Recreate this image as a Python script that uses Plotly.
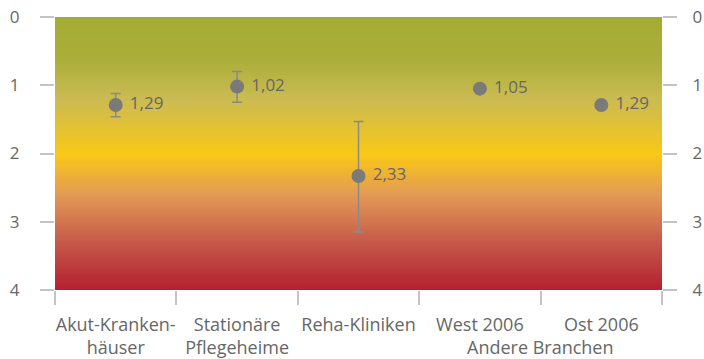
import numpy as np
import plotly.graph_objects as go

# ---- data ----
categories = ["Akut-Kranken-<br>häuser", "Stationäre<br>Pflegeheime", "Reha-Kliniken", "West 2006", "Ost 2006"]
values = [1.29, 1.02, 2.33, 1.05, 1.29]
value_labels = ["1,29", "1,02", "2,33", "1,05", "1,29"]
err_plus = [0.17, 0.23, 0.82, 0.0, 0.0]
err_minus = [0.17, 0.22, 0.80, 0.0, 0.0]
y_ticks = [0, 1, 2, 3, 4]
group_label = "Andere Branchen"

# ---- styling ----
TXT = "#676767"
TICK = "#c4c4c4"
FONT = "Open Sans"
FS = 17
FSX = 18
grad_scale = [
    [0.00, "#a3ac33"],
    [0.15, "#aaae3a"],
    [0.30, "#cbbb52"],
    [0.50, "#f9c816"],
    [0.65, "#e39a55"],
    [0.82, "#c65a4a"],
    [1.00, "#b41f30"],
]

n = len(categories)
xpos = list(range(n))
bounds = [i - 0.5 for i in range(n + 1)]

fig = go.Figure()

# gradient background following the value scale (left axis)
gy = np.linspace(y_ticks[0], y_ticks[-1], 81)
fig.add_trace(go.Heatmap(
    x=[bounds[0], bounds[-1]], y=gy, z=[[v, v] for v in gy],
    colorscale=grad_scale, zmin=y_ticks[0], zmax=y_ticks[-1],
    zsmooth="best", showscale=False, hoverinfo="skip",
))

# points drawn on the overlaying (right) axis so they sit above the gradient
fig.add_trace(go.Scatter(
    x=xpos, y=values, mode="markers+text", yaxis="y2",
    text=[" " + t for t in value_labels], textposition="middle right",
    textfont=dict(family=FONT, size=FS, color=TXT),
    marker=dict(size=14, color="#7a7a7a"),
    error_y=dict(type="data", symmetric=False, array=err_plus, arrayminus=err_minus,
                 color="#8a8a8a", thickness=1.5, width=5),
    cliponaxis=False, hoverinfo="skip",
))

yaxis_common = dict(
    tickvals=y_ticks, ticks="outside",
    ticklen=14, tickcolor=TICK, tickwidth=1.5, showgrid=False, zeroline=False,
    showline=False, automargin=False, ticklabeloverflow="allow",
    tickfont=dict(family=FONT, size=FS, color=TXT),
)

fig.update_layout(
    width=704, height=359,
    margin=dict(l=55, r=42, t=17, b=69),
    paper_bgcolor="white", plot_bgcolor="white",
    showlegend=False,
    font=dict(family=FONT, size=FS, color=TXT),
    xaxis=dict(
        range=[bounds[0], bounds[-1]], tickvals=xpos, ticktext=categories,
        ticks="", showgrid=False, zeroline=False, showline=False,
        ticklabelstandoff=22, automargin=False, ticklabeloverflow="allow",
        tickfont=dict(family=FONT, size=FSX, color=TXT),
        minor=dict(tickvals=bounds, ticks="outside", ticklen=14, tickcolor=TICK, tickwidth=1.5, showgrid=False),
    ),
    yaxis=dict(**yaxis_common, range=[y_ticks[-1], y_ticks[0]], ticklabelstandoff=17),
    yaxis2=dict(**yaxis_common, range=[y_ticks[-1] + 1e-4, y_ticks[0] - 1e-4],
                overlaying="y", side="right", ticklabelstandoff=12),
)

fig.add_annotation(
    x=(xpos[3] + xpos[4]) / 2, y=0, xref="x", yref="paper", yshift=-57,
    text=group_label, showarrow=False, yanchor="middle",
    font=dict(family=FONT, size=FSX, color=TXT),
)

fig.write_html(
    "out.html",
    config={"displayModeBar": False},
    post_script="document.body.style.margin='0';document.body.style.overflow='hidden';",
)
